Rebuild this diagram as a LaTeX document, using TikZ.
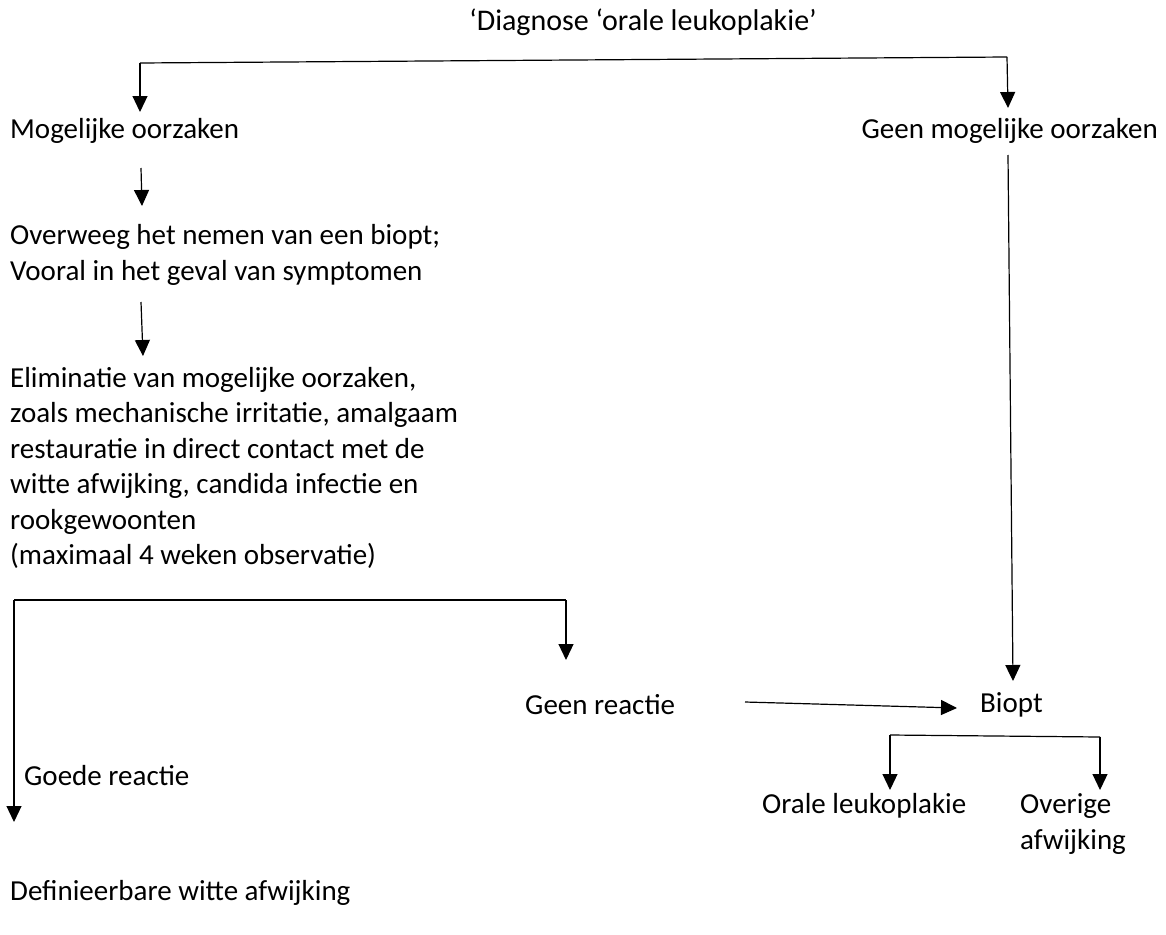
\documentclass[tikz,border=0pt]{standalone}
\usepackage{fontspec}
\setmainfont{Carlito}
\usetikzlibrary{arrows.meta}
\tikzset{
  lbl/.style={inner sep=0pt, anchor=west, align=left, font=\fontsize{29}{35.5}\selectfont},
  conn/.style={line width=1.2pt, black},
  arr/.style={conn, -{Triangle[width=15pt,length=16pt]}},
}
\begin{document}
\begin{tikzpicture}[x=1pt,y=-1pt]
\useasboundingbox (0,0) rectangle (1166,934);
% texts
\node[lbl, anchor=center, font=\fontsize{30}{36}\selectfont] (title) at (643,22) {‘Diagnose ‘orale leukoplakie’};
\node[lbl] (mog) at (10,131) {Mogelijke oorzaken};
\node[lbl, anchor=east] (geen) at (1158,131) {Geen mogelijke oorzaken};
\node[lbl] (overweeg) at (10,255) {Overweeg het nemen van een biopt;\\Vooral in het geval van symptomen};
\node[lbl] (elim) at (10,468) {Eliminatie van mogelijke oorzaken,\\zoals mechanische irritatie, amalgaam\\restauratie in direct contact met de\\witte afwijking, candida infectie en\\rookgewoonten\\(maximaal 4 weken observatie)};
\node[lbl] (geenreactie) at (525,705) {Geen reactie};
\node[lbl] (biopt) at (980,705) {Biopt};
\node[lbl] (goede) at (24,776) {Goede reactie};
\node[lbl] (orale) at (762,806) {Orale leukoplakie};
\node[lbl] (overige) at (1020,824) {Overige\\afwijking};
\node[lbl] (defin) at (10,893) {Definieerbare witte afwijking};
% coordinates
\coordinate (tl) at (140,63);
\coordinate (tr) at (1007,57);
\coordinate (tlE) at (140,112);
\coordinate (trE) at (1008,108);
\coordinate (a1s) at (141,168);
\coordinate (a1e) at (142,206);
\coordinate (a2s) at (141,302);
\coordinate (a2e) at (143,356);
\coordinate (bl) at (14,600);
\coordinate (br) at (566,600);
\coordinate (brE) at (566,660);
\coordinate (blE) at (14,822);
\coordinate (grs) at (745,702);
\coordinate (gre) at (957,708);
\coordinate (rvs) at (1008,155);
\coordinate (rve) at (1013,681);
\coordinate (bbl) at (890,735);
\coordinate (bbr) at (1100,737);
\coordinate (bblE) at (890,790);
\coordinate (bbrE) at (1100,790);
% connectors
\draw[conn] (tl) -- (tr);
\draw[arr] (tl) -- (tlE);
\draw[arr] (tr) -- (trE);
\draw[arr] (a1s) -- (a1e);
\draw[arr] (a2s) -- (a2e);
\draw[conn] (bl) -- (br);
\draw[arr] (br) -- (brE);
\draw[arr] (bl) -- (blE);
\draw[arr] (grs) -- (gre);
\draw[arr] (rvs) -- (rve);
\draw[conn] (bbl) -- (bbr);
\draw[arr] (bbl) -- (bblE);
\draw[arr] (bbr) -- (bbrE);
\end{tikzpicture}
\end{document}
